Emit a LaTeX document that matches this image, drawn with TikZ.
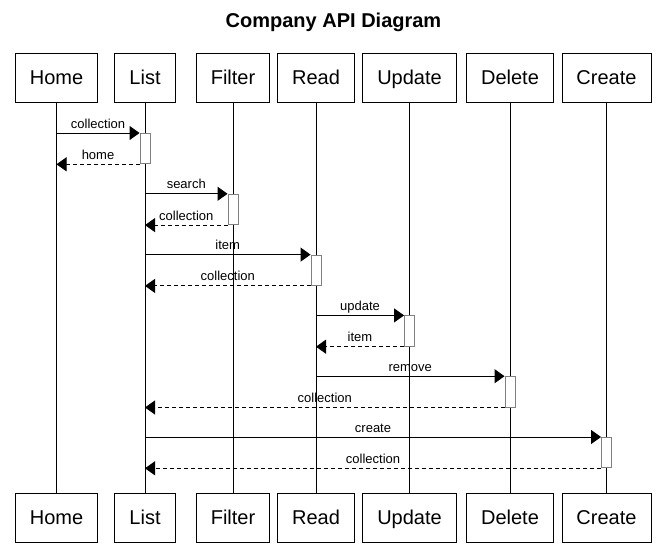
\documentclass[tikz,border=0pt]{standalone}
\usepackage{fontspec}
\setmainfont{Liberation Sans}
\usetikzlibrary{arrows.meta}

\begin{document}
\begin{tikzpicture}[x=1pt,y=-1pt,line width=0.9pt,
  actor/.style={draw,minimum height=49pt,inner xsep=14.5pt,text height=14.5pt,text depth=0pt,
                font=\fontsize{20}{24}\selectfont},
  act/.style={draw=gray,fill=white,anchor=north,minimum width=10pt,minimum height=30.4pt,inner sep=0pt},
  call/.style={-{Triangle[length=10pt,width=14pt]}},
  reply/.style={call,dash pattern=on 4pt off 3pt},
  msg/.style={midway,anchor=base,yshift=5pt,inner sep=0pt,font=\fontsize{13}{15}\selectfont}]
  \useasboundingbox (0,0) rectangle (667,552);

  \node[font=\bfseries\fontsize{20}{24}\selectfont] (title) at (333.5,22) {Company API Diagram};

  % participants, top and bottom, with their lifelines
  \foreach \n/\t/\x in {home/Home/56.5, list/List/145, filter/Filter/233, read/Read/316,
                        update/Update/409.5, delete/Delete/510, create/Create/606.5} {
    \node[actor] (\n) at (\x,77.5) {\t};
    \node[actor] (\n-b) at (\x,517.5) {\t};
    \draw (\n) -- (\n-b);
  }

  % activations
  \node[act] (a1) at (145,133) {};
  \node[act] (a2) at (233,193.8) {};
  \node[act] (a3) at (316,254.6) {};
  \node[act] (a4) at (409.5,315.4) {};
  \node[act] (a5) at (510,376.2) {};
  \node[act] (a6) at (606.5,437) {};

  % messages
  \draw[call] (home |- a1.north west) -- (a1.north west) node[msg] {collection};
  \draw[reply] (a1.south west) -- (home |- a1.south west) node[msg] {home};
  \draw[call] (list |- a2.north west) -- (a2.north west) node[msg] {search};
  \draw[reply] (a2.south west) -- (list |- a2.south west) node[msg] {collection};
  \draw[call] (list |- a3.north west) -- (a3.north west) node[msg] {item};
  \draw[reply] (a3.south west) -- (list |- a3.south west) node[msg] {collection};
  \draw[call] (read |- a4.north west) -- (a4.north west) node[msg] {update};
  \draw[reply] (a4.south west) -- (read |- a4.south west) node[msg] {item};
  \draw[call] (read |- a5.north west) -- (a5.north west) node[msg] {remove};
  \draw[reply] (a5.south west) -- (list |- a5.south west) node[msg] {collection};
  \draw[call] (list |- a6.north west) -- (a6.north west) node[msg] {create};
  \draw[reply] (a6.south west) -- (list |- a6.south west) node[msg] {collection};
\end{tikzpicture}
\end{document}
